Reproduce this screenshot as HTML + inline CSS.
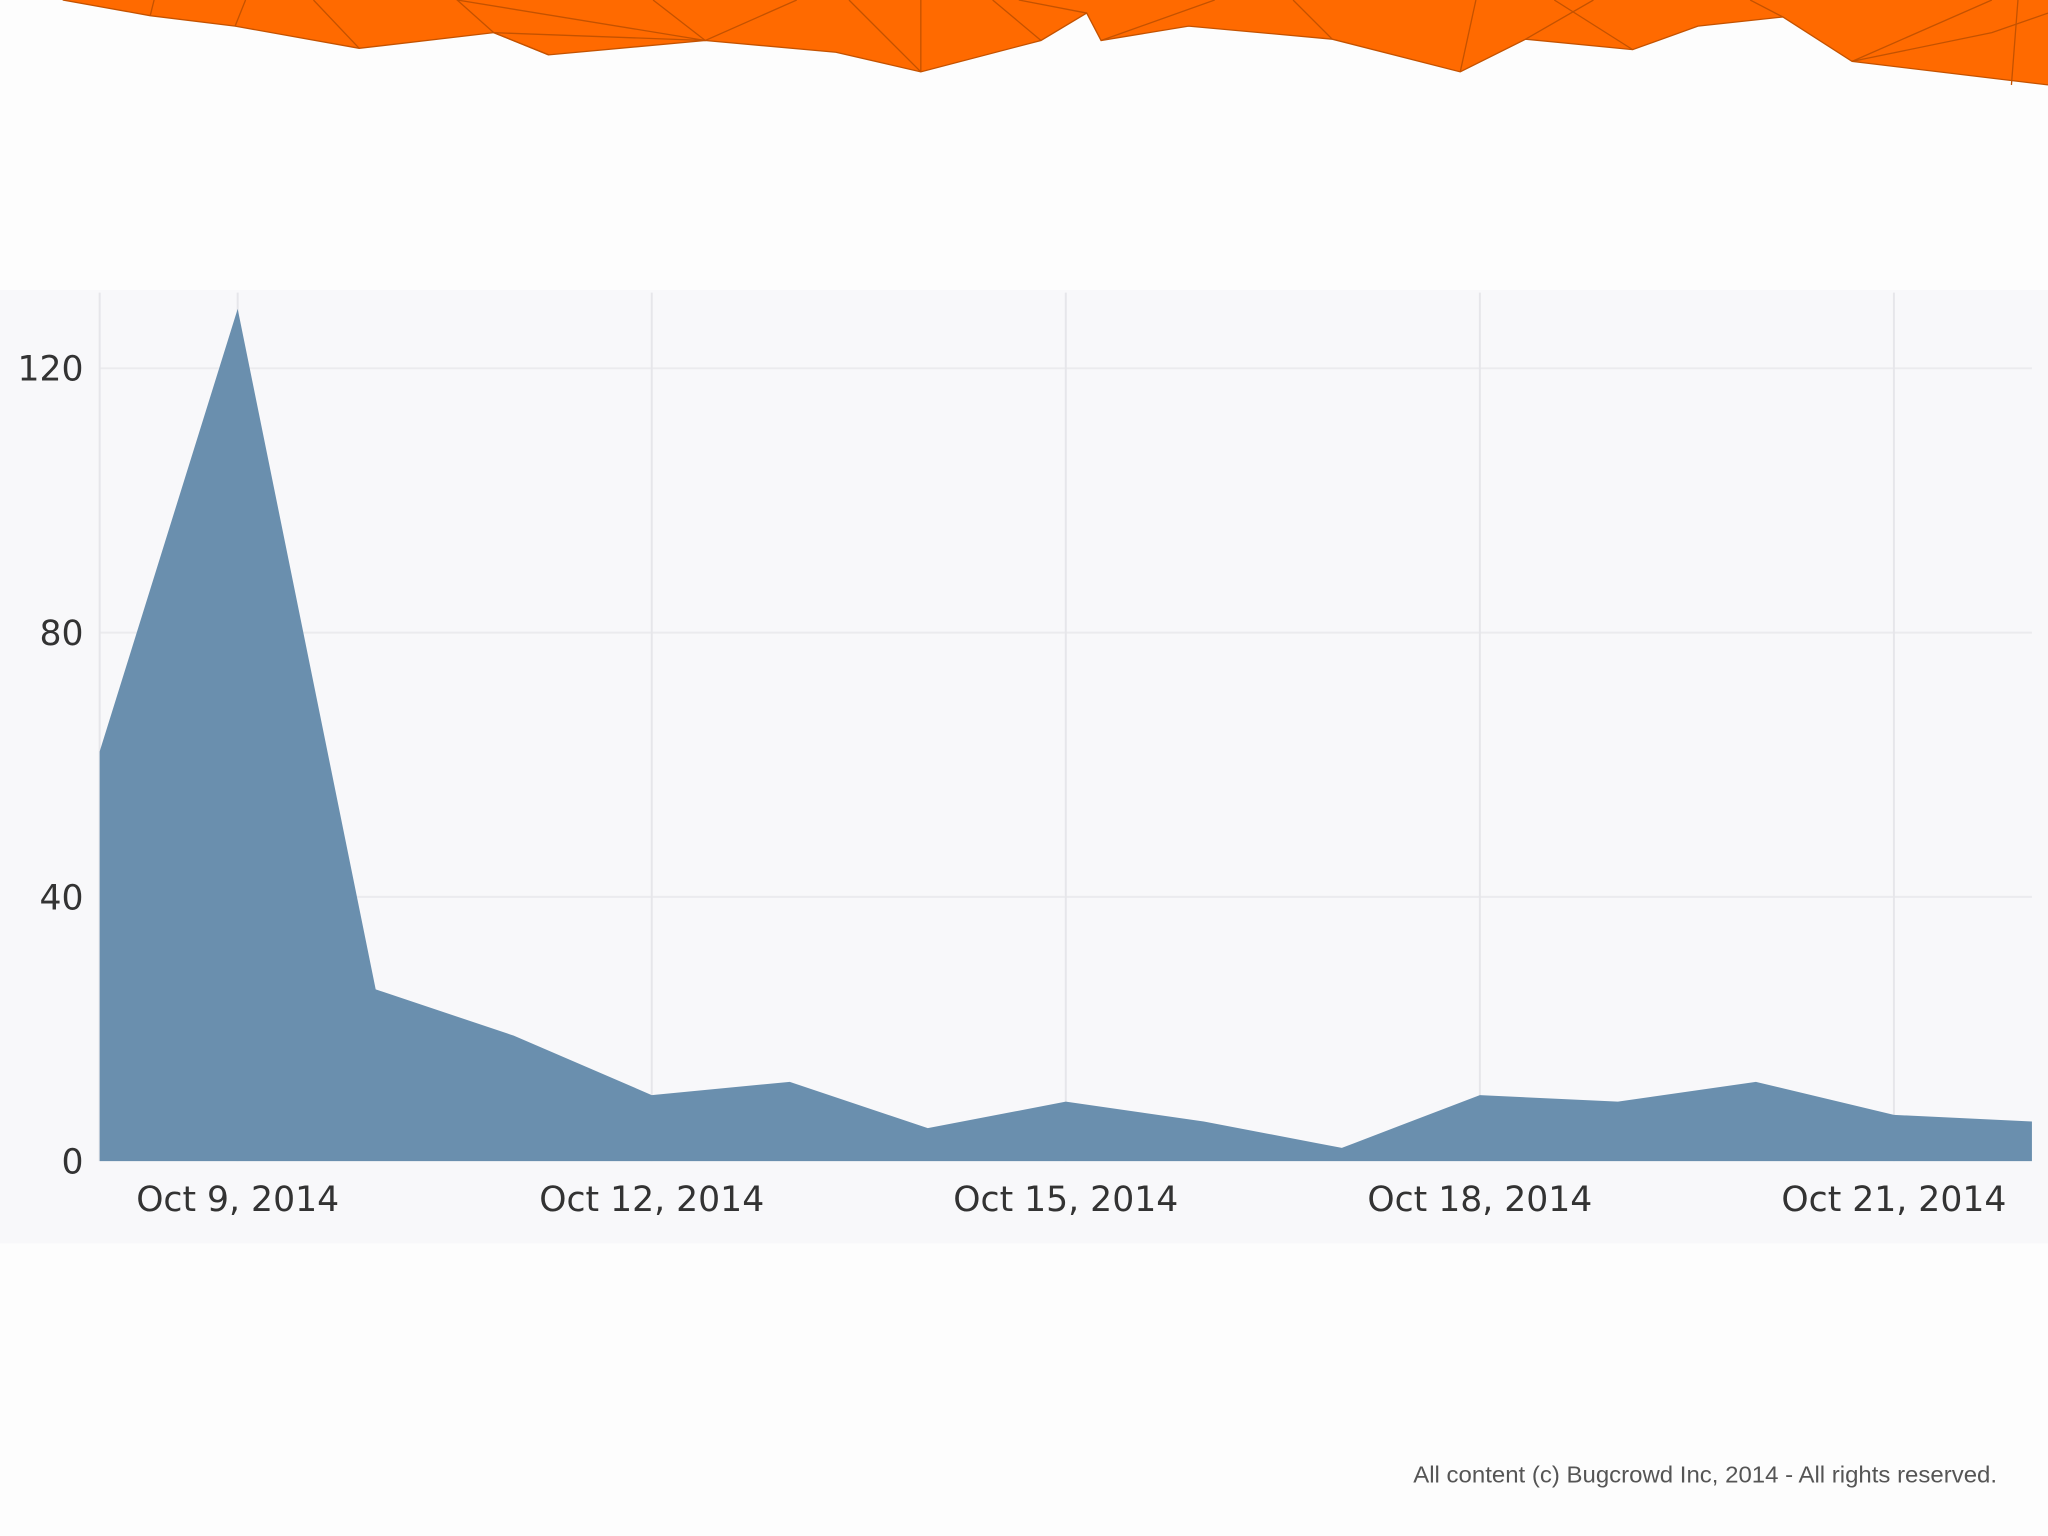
<!DOCTYPE html>
<html><head><meta charset="utf-8"><style>
html,body{margin:0;padding:0;background:#fdfdfd;}
svg{display:block;}
</style></head><body>
<svg id="chart" width="2048" height="1536" viewBox="0 0 1568 1176" preserveAspectRatio="none" xmlns="http://www.w3.org/2000/svg">
<rect width="1568" height="1176" fill="#fdfdfd"/>
<g>
<polygon fill="#ff6a00" points="48,0 1568,0 1568,65 1418,47 1365,13 1300,20 1250,38 1168,30 1118,55 1020,30 910,20 843,31 832,10 797,31 705,55 640,40 540,31 420,42 378,25 275,37 180,20 115,12"/>
<polyline fill="none" stroke="#c45200" stroke-width="1" points="1568,65 1418,47 1365,13 1300,20 1250,38 1168,30 1118,55 1020,30 910,20 843,31 832,10 797,31 705,55 640,40 540,31 420,42 378,25 275,37 180,20 115,12 48,0"/>
<g stroke="#c45200" stroke-width="1" fill="none">
<polyline points="115,12 118,0"/><polyline points="180,20 188,0"/><polyline points="275,37 240,0"/><polyline points="378,25 350,0 540,31 500,0"/><polyline points="420,42 378,25 540,31 610,0"/><polyline points="705,55 705,0"/><polyline points="705,55 650,0"/><polyline points="797,31 760,0"/><polyline points="832,10 780,0"/><polyline points="843,31 930,0"/><polyline points="1020,30 990,0"/><polyline points="1118,55 1130,0"/><polyline points="1168,30 1220,0"/><polyline points="1250,38 1190,0"/><polyline points="1365,13 1340,0"/><polyline points="1418,47 1525,0"/><polyline points="1418,47 1525,25 1568,10"/><polyline points="1545,0 1540,65"/>
</g>
</g>
<rect x="0" y="222" width="1568" height="730" fill="#f8f8fa"/>
<g id="grid"></g>
<g id="marks"></g>
<g id="axes"></g>
<text x="1529" y="1135" text-anchor="end" font-family="Liberation Sans, sans-serif" font-size="17.5" textLength="447" lengthAdjust="spacingAndGlyphs" fill="#555">All content (c) Bugcrowd Inc, 2014 - All rights reserved.</text>
</svg>
<script>
const dates = ["Oct 8","Oct 9","Oct 10","Oct 11","Oct 12","Oct 13","Oct 14","Oct 15","Oct 16","Oct 17","Oct 18","Oct 19","Oct 20","Oct 21","Oct 22"];
const values = [62,129,26,19,10,12,5,9,6,2,10,9,12,7,6];
const yTicks = [0,40,80,120];
const xTickIdx = [1,4,7,10,13];
const xTickLabels = ["Oct 9, 2014","Oct 12, 2014","Oct 15, 2014","Oct 18, 2014","Oct 21, 2014"];

const NS="http://www.w3.org/2000/svg";
const X0=76.3, X1=1555.7, Y0=889, YPER=(889-282)/120;
function xs(i){return X0+(X1-X0)*i/(dates.length-1);}
function ys(v){return Y0-v*YPER;}
function mk(tag,attrs,parent){const e=document.createElementNS(NS,tag);for(const k in attrs)e.setAttribute(k,attrs[k]);document.getElementById(parent).appendChild(e);return e;}

yTicks.forEach(t=>{
  if(t>0){const l=mk('line',{x1:X0,x2:X1,y1:ys(t),y2:ys(t),stroke:'#ebebee','stroke-width':1.5},'grid');
  
  }
  const tx=mk('text',{x:64,y:ys(t)+9.5,'text-anchor':'end','font-family':'DejaVu Sans, sans-serif','font-size':26.5,fill:'#333'},'axes');
  
  
  tx.textContent=t;
});
const la=mk('line',{x1:X0,x2:X0,y1:224,y2:889,stroke:'#e6e6ea','stroke-width':1.5},'grid');


xTickIdx.forEach((i,k)=>{
  const l=mk('line',{x1:xs(i),x2:xs(i),y1:224,y2:889,stroke:'#e6e6ea','stroke-width':1.5},'grid');
  
  
  const tx=mk('text',{x:xs(i),y:927,'text-anchor':'middle','font-family':'DejaVu Sans, sans-serif','font-size':26.5,fill:'#333'},'axes');
  
  
  tx.textContent=xTickLabels[k];
});
let d='M'+xs(0)+','+ys(0);
values.forEach((v,i)=>{d+=' L'+xs(i)+','+ys(v);});
d+=' L'+xs(values.length-1)+','+ys(0)+' Z';
const a=mk('path',{d:d,fill:'#6a8fae'},'marks');


</script>
</body></html>
